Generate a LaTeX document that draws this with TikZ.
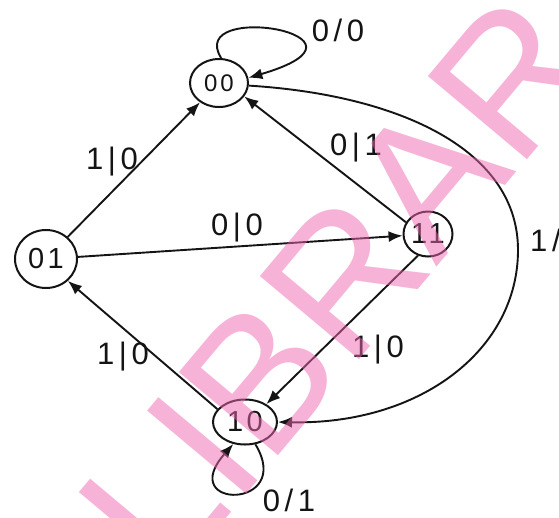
\documentclass[tikz,border=0pt]{standalone}
\usepackage{fontspec}
\setmainfont{Liberation Sans}
\newfontfamily\handfont[LetterSpace=15]{Liberation Sans}
\newfontfamily\statefont[LetterSpace=12]{Liberation Sans}
\usetikzlibrary{shapes.geometric,arrows.meta}
\definecolor{ink}{RGB}{20,20,20}
\definecolor{wmpink}{RGB}{240,104,176}
\begin{document}
\begin{tikzpicture}[x=1pt,y=-1pt,
  state/.style={ellipse, draw=ink, line width=2pt, inner sep=0pt, text=ink,
    font=\statefont\fontsize{29}{29}\selectfont},
  edge/.style={draw=ink, line width=1.9pt, -{Latex[length=14pt,width=11pt]}},
  lbl/.style={font=\handfont\fontsize{31}{31}\selectfont, text=ink, inner sep=0pt},
  wm/.style={text=wmpink, text opacity=0.5, inner sep=0pt,
    font=\fontsize{188}{188}\selectfont}]
\useasboundingbox (0,0) rectangle (559,517);
\clip (0,0) rectangle (559,517);
\fill[white] (0,0) rectangle (559,517);

% states
\node[state, minimum width=58pt, minimum height=48pt,
      font=\statefont\fontsize{24}{24}\selectfont] (a00) at (219,83) {00};
\node[state, minimum width=62pt, minimum height=58pt] (a01) at (46,259) {01};
\node[state, minimum width=49pt, minimum height=45pt] (a11) at (428,234) {11};
\node[state, minimum width=64pt, minimum height=45pt] (a10) at (245,422) {10};

% transitions
\draw[edge] (a01) -- (a00);
\draw[edge] (a01) -- (a11);
\draw[edge] (a11.152) -- (a00.-28);
\draw[edge] (a11.-115) -- (a10.40);
\draw[edge] (a10.155) -- (a01.-45);
\coordinate (rt) at (518,250);
\draw[edge] (a00.-5) .. controls (400,95) and (518,150) .. (rt)
                     .. controls (518,350) and (420,425) .. (a10.0);
\draw[edge] (a00.85) .. controls (185,0) and (395,35) .. (a00.10);
\draw[edge] (a10.-65) .. controls (295,510) and (175,510) .. (a10.-118);

% labels
\node[lbl] (l1) at (338,30) {0/0};
\node[lbl] (l2) at (112,162) {1|0};
\node[lbl] (l3) at (356,148) {0|1};
\node[lbl] (l4) at (237,228) {0|0};
\node[lbl] (l5) at (378,350) {1|0};
\node[lbl] (l6) at (123,357) {1|0};
\node[lbl] (l7) at (289,500) {0/1};
\node[lbl, anchor=west] (l8) at (530,240) {1/1};

% watermark
\node[wm, rotate=50, anchor=base west] (wmark) at (167.9,587.7) {LIBRARY};
\end{tikzpicture}
\end{document}
